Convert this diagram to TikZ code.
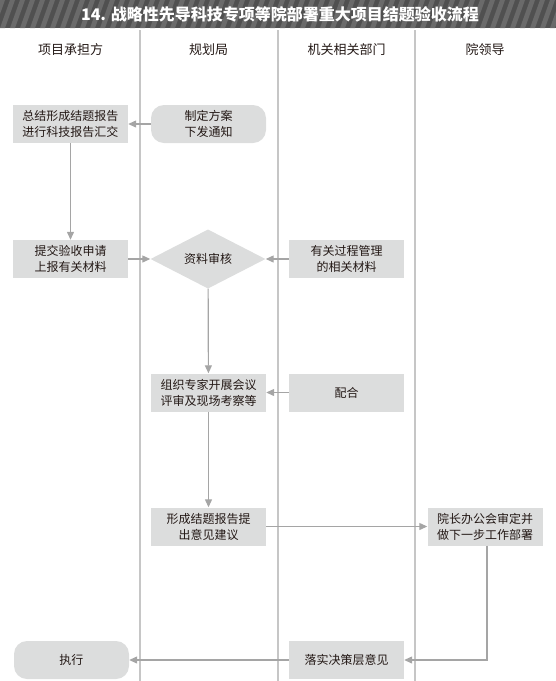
\documentclass[tikz,border=0pt]{standalone}
\usepackage{fontspec}
\setmainfont{Noto Sans CJK SC}
\usetikzlibrary{arrows.meta, shapes.geometric}
\definecolor{boxgray}{HTML}{DCDDDD}
\definecolor{flowgray}{HTML}{A5A5A5}
\definecolor{lanegray}{HTML}{C6C6C6}
\definecolor{bardark}{HTML}{505050}
\definecolor{barlight}{HTML}{6A6A6A}
\definecolor{txtcol}{HTML}{231815}
\tikzset{taskbox/.style = {shape = rectangle, fill = boxgray, text = txtcol, minimum width = 115pt, minimum height = 38pt, inner sep = 0pt, align = center, font = \fontsize{12}{16}\selectfont}}
\tikzset{startbox/.style = {taskbox, rounded corners = 13pt}}
\tikzset{checkbox/.style = {shape = diamond, fill = boxgray, text = txtcol, minimum width = 115pt, minimum height = 56pt, inner sep = 0pt, font = \fontsize{12}{16}\selectfont}}
\tikzset{lanehead/.style = {text = txtcol, font = \fontsize{13}{16}\selectfont}}
\tikzset{lane/.style = {draw = lanegray, line width = 1.3pt}}
\tikzset{flow/.style = {draw = flowgray, line width = 1.2pt, -{Triangle[length = 8pt, width = 7pt]}}}

\begin{document}
\begin{tikzpicture}[x = 1pt, y = -1pt]
			\useasboundingbox (0, 0) rectangle (556, 681);

			% title bar
			\begin{scope}
				\clip (0, 0) rectangle (556, 28);
				\fill[bardark] (0, 0) rectangle (556, 28);
				\foreach \i in {-3, ..., 56}
					\fill[barlight] (\i*10, 28) -- (\i*10 + 5, 28) -- (\i*10 + 15, 0) -- (\i*10 + 10, 0) -- cycle;
			\end{scope}
			\node[text = white, font = \bfseries\fontsize{16}{18}\selectfont] (title) at (280, 14) {14. 战略性先导科技专项等院部署重大项目结题验收流程};

			% swim lanes
			\draw[lane] (140, 30) -- (140, 681);
			\draw[lane] (278, 30) -- (278, 681);
			\draw[lane] (415, 30) -- (415, 681);

			\node[lanehead] (h1) at (70.5, 50) {项目承担方};
			\node[lanehead] (h2) at (208.5, 50) {规划局};
			\node[lanehead] (h3) at (346.5, 50) {机关相关部门};
			\node[lanehead] (h4) at (485, 50) {院领导};

			% steps
			\node[taskbox] (summary) at (70.5, 124) {总结形成结题报告\\进行科技报告汇交};
			\node[startbox] (notice) at (208.5, 124) {制定方案\\下发通知};
			\node[taskbox] (apply) at (70.5, 259) {提交验收申请\\上报有关材料};
			\node[checkbox] (review) at (208, 259) {资料审核};
			\node[taskbox] (material) at (346.5, 259) {有关过程管理\\的相关材料};
			\node[taskbox] (meeting) at (208.5, 392.5) {组织专家开展会议\\评审及现场考察等};
			\node[taskbox] (assist) at (346.5, 392.5) {配合};
			\node[taskbox] (advice) at (208.5, 526.5) {形成结题报告提\\出意见建议};
			\node[taskbox] (decide) at (485, 526.5) {院长办公会审定并\\做下一步工作部署};
			\node[taskbox] (implement) at (346.5, 660) {落实决策层意见};
			\node[startbox] (execute) at (71.5, 660) {执行};

			\draw[flow] (notice) to (summary);
			\draw[flow] (summary) to (apply);
			\draw[flow] (apply) to (review);
			\draw[flow] (material) to (review);
			\draw[flow] (review) to (meeting);
			\draw[flow] (assist) to (meeting);
			\draw[flow] (meeting) to (advice);
			\draw[flow] (advice) to (decide);
			\draw[flow] ([xshift = 2pt]decide.south) |- (implement.east);
			\draw[flow] (implement) to (execute);
		\end{tikzpicture}
\end{document}
